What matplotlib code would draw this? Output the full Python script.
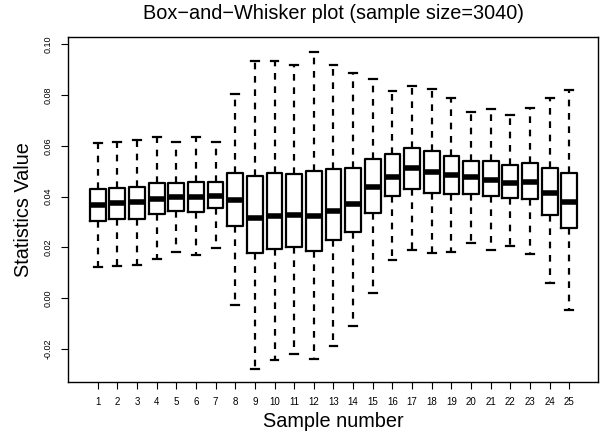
import matplotlib
matplotlib.use("Agg")
import matplotlib.pyplot as plt

plt.rcParams['font.family'] = ['Liberation Sans', 'DejaVu Sans']
plt.rcParams['axes.unicode_minus'] = False

# five-number summaries for each sample
samples = list(range(1, 26))
whis_hi = [0.0613, 0.0615, 0.0623, 0.0634, 0.0617, 0.0634, 0.0614, 0.0805, 0.0936, 0.0936,
           0.0918, 0.0972, 0.0919, 0.0889, 0.0865, 0.0815, 0.0836, 0.0823, 0.0788, 0.0735,
           0.0747, 0.0722, 0.0751, 0.0788, 0.0821]
q3 = [0.0429, 0.0435, 0.0439, 0.0455, 0.0455, 0.0458, 0.0458, 0.0494, 0.0483, 0.0492,
      0.0488, 0.0502, 0.0509, 0.0514, 0.0547, 0.0567, 0.0593, 0.0580, 0.0560, 0.0540,
      0.0540, 0.0523, 0.0534, 0.0512, 0.0494]
medians = [0.0367, 0.0375, 0.0377, 0.0391, 0.0397, 0.0397, 0.0404, 0.0385, 0.0314, 0.0325,
           0.0327, 0.0323, 0.0342, 0.0370, 0.0439, 0.0479, 0.0514, 0.0496, 0.0484, 0.0479,
           0.0465, 0.0455, 0.0456, 0.0413, 0.0380]
q1 = [0.0305, 0.0310, 0.0313, 0.0333, 0.0343, 0.0339, 0.0354, 0.0285, 0.0176, 0.0193,
      0.0200, 0.0185, 0.0229, 0.0260, 0.0334, 0.0402, 0.0429, 0.0416, 0.0410, 0.0410,
      0.0402, 0.0393, 0.0391, 0.0327, 0.0277]
whis_lo = [0.0124, 0.0126, 0.0129, 0.0153, 0.0181, 0.0171, 0.0199, -0.0028, -0.0280, -0.0245,
           -0.0221, -0.0242, -0.0188, -0.0109, 0.0019, 0.0150, 0.0189, 0.0179, 0.0180, 0.0216,
           0.0189, 0.0206, 0.0174, 0.0058, -0.0047]

stats = []
for i in range(len(samples)):
    stats.append({'med': medians[i], 'q1': q1[i], 'q3': q3[i],
                  'whislo': whis_lo[i], 'whishi': whis_hi[i], 'fliers': []})

fig = plt.figure(figsize=(6.03, 4.37), dpi=100)
ax = fig.add_axes([0.1128, 0.1265, 0.8789, 0.7881])

ax.bxp(stats, positions=samples, widths=0.8, showfliers=False,
       boxprops=dict(color='black', linewidth=1.6),
       medianprops=dict(color='black', linewidth=4.0, solid_capstyle='butt'),
       whiskerprops=dict(color='black', linewidth=1.6, linestyle=(0, (3, 3))),
       capprops=dict(color='black', linewidth=1.6),
       capwidths=0.4)

ax.set_xlim(-0.51, 26.46)
ax.set_ylim(-0.0330, 0.1028)
ax.set_xticks(samples)
ax.set_xticklabels([str(s) for s in samples])
yt = [-0.02, 0.00, 0.02, 0.04, 0.06, 0.08, 0.10]
ax.set_yticks(yt)
ax.set_yticklabels(['%.2f' % v for v in yt], rotation=90, va='center')

ax.tick_params(axis='both', direction='out', length=5, width=0.8, labelsize=6.5, pad=6)
ax.tick_params(axis='x', labelsize=7)
for sp in ax.spines.values():
    sp.set_linewidth(1.0)

ax.set_title('Box\u2212and\u2212Whisker plot (sample size=3040)', fontsize=14.3, pad=13)
ax.set_xlabel('Sample number', fontsize=14.3)
ax.xaxis.set_label_coords(0.5, -0.087)
ax.set_ylabel('Statistics Value', fontsize=14.3, labelpad=8)

fig.savefig('out.png', dpi=100)
